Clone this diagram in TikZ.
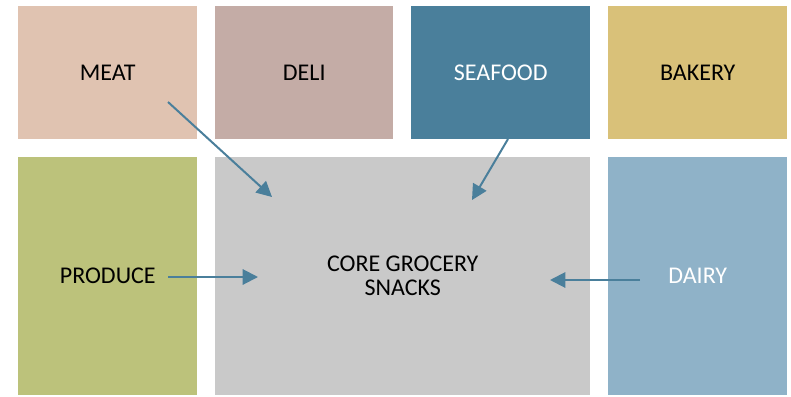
\documentclass[tikz,border=0pt]{standalone}
\usepackage{fontspec}
\setmainfont{Carlito}
\usepackage{tikz}
\usetikzlibrary{positioning,
                arrows.meta}
\definecolor{meatpink}{HTML}{E0C3B1}
\definecolor{delimauve}{HTML}{C4ACA6}
\definecolor{seablue}{HTML}{4A7F9B}
\definecolor{bakerygold}{HTML}{D9C179}
\definecolor{producegreen}{HTML}{BCC27B}
\definecolor{coregrey}{HTML}{C9C9C9}
\definecolor{dairyblue}{HTML}{8FB2C8}

\begin{document}
\begin{tikzpicture}[x=0.75pt,y=-0.75pt]

\tikzset{
deptbox/.style={
draw=none,
anchor=north west,
inner sep=0pt,
font=\fontsize{18}{18}\selectfont,
align=center
},
flowarrow/.style={
draw=seablue,
line width=1.5pt,
-{Triangle[length=11.5pt,width=11.5pt]}
}
}

\useasboundingbox (0,0) rectangle (791,396);

%--------------------------------------------------
% TOP ROW
%--------------------------------------------------

\node[deptbox,fill=meatpink,minimum width=134.25pt,minimum height=99.75pt] (meat) at (18,6) {MEAT};
\node[deptbox,fill=delimauve,minimum width=133.5pt,minimum height=99.75pt] (deli) at (215,6) {DELI};
\node[deptbox,fill=seablue,text=white,minimum width=134.25pt,minimum height=99.75pt] (seafood) at (411,6) {SEAFOOD};
\node[deptbox,fill=bakerygold,minimum width=134.25pt,minimum height=99.75pt] (bakery) at (608,6) {BAKERY};

%--------------------------------------------------
% BOTTOM ROW
%--------------------------------------------------

\node[deptbox,fill=producegreen,minimum width=134.25pt,minimum height=178.5pt] (produce) at (18,157) {PRODUCE};
\node[deptbox,fill=coregrey,minimum width=281.25pt,minimum height=178.5pt] (core) at (215,157) {CORE GROCERY\\SNACKS};
\node[deptbox,fill=dairyblue,text=white,minimum width=134.25pt,minimum height=178.5pt] (dairy) at (608,157) {DAIRY};

%--------------------------------------------------
% FLOWS
%--------------------------------------------------

\coordinate (meatout) at (168,102);
\coordinate (meatin) at (272,197);
\coordinate (seaout) at (508,139);
\coordinate (seain) at (472,200);
\coordinate (produceout) at (168,277);
\coordinate (producein) at (258,277);
\coordinate (dairyout) at (640,280);
\coordinate (dairyin) at (550,280);

\draw[flowarrow] (meatout) -- (meatin);
\draw[flowarrow] (seaout) -- (seain);
\draw[flowarrow] (produceout) -- (producein);
\draw[flowarrow] (dairyout) -- (dairyin);

\end{tikzpicture}
\end{document}
